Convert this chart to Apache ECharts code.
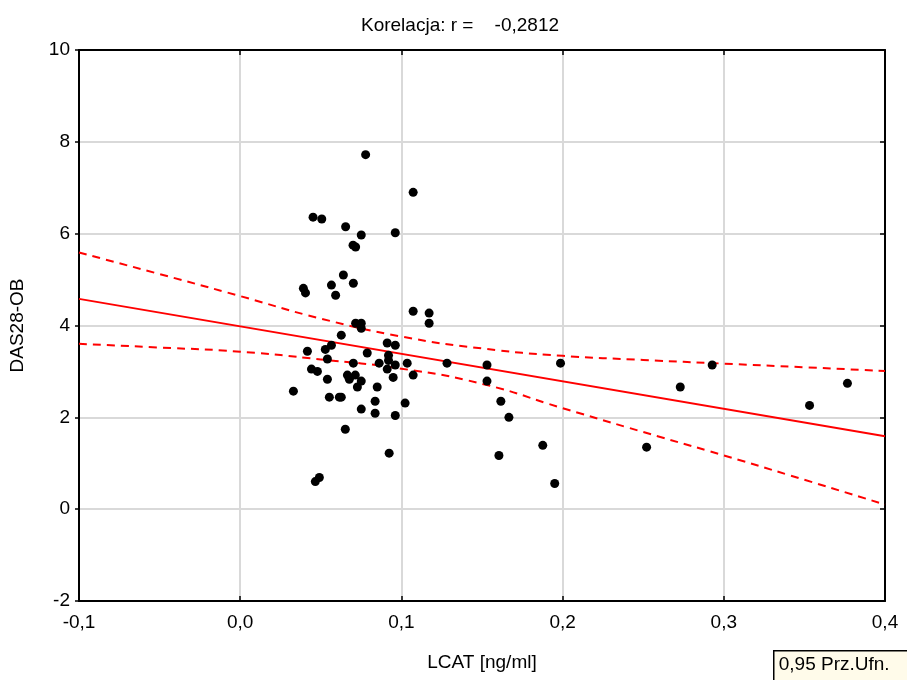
<!DOCTYPE html>
<html>
<head>
<meta charset="utf-8">
<script src="https://cdn.jsdelivr.net/npm/echarts@6/dist/echarts.min.js"></script>
<style>html,body{margin:0;padding:0;background:#fff}#c{width:907px;height:680px}</style>
</head>
<body>
<div id="c"></div>
<script>
// Data
const lcat = [0.0778,0.1073,0.0452,0.0506,0.0654,0.0751,0.0962,0.0700,0.0716,0.0640,0.0566,0.0702,0.0592,0.0392,0.0405,0.1073,0.1172,0.1172,0.0716,0.0751,0.0751,0.0627,0.0417,0.0528,0.0566,0.0788,0.0912,0.0962,0.0920,0.0920,0.0541,0.0702,0.0862,0.0962,0.0912,0.1036,0.1283,0.0442,0.0479,0.0541,0.0665,0.0714,0.0677,0.0751,0.0727,0.0850,0.0949,0.1073,0.0330,0.0553,0.0615,0.0627,0.0837,0.1023,0.0751,0.0837,0.0962,0.0652,0.0924,0.0466,0.0491,0.1531,0.1531,0.1617,0.1667,0.1605,0.1877,0.1951,0.1987,0.2521,0.2730,0.2928,0.3532,0.3767];
const das28 = [7.72,6.90,6.36,6.32,6.15,5.97,6.02,5.75,5.71,5.10,4.88,4.92,4.66,4.81,4.71,4.31,4.27,4.05,4.05,4.05,3.94,3.79,3.44,3.48,3.57,3.40,3.62,3.57,3.35,3.24,3.27,3.18,3.18,3.14,3.05,3.18,3.18,3.05,3.00,2.83,2.92,2.92,2.83,2.79,2.66,2.66,2.87,2.92,2.57,2.44,2.44,2.44,2.35,2.31,2.18,2.09,2.04,1.74,1.22,0.60,0.69,3.14,2.79,2.35,2.00,1.17,1.39,0.56,3.18,1.35,2.66,3.14,2.26,2.74];
const fitX = [-0.1, 0.4];
const fitY = [4.58, 1.59];
const bandX = [-0.1,-0.05,0,0.05,0.1,0.15,0.2,0.25,0.3,0.35,0.4];
const bandUpper = [5.59,5.12,4.64,4.15,3.76,3.50,3.34,3.25,3.17,3.09,3.01];
const bandLower = [3.60,3.52,3.43,3.26,3.06,2.73,2.20,1.68,1.17,0.64,0.10];
const xTicks = [-0.1,0,0.1,0.2,0.3,0.4];
const yTicks = [-2,0,2,4,6,8,10];
const titleText = 'Korelacja: r =    -0,2812';
const xName = 'LCAT [ng/ml]';
const yName = 'DAS28-OB';
const legendText = '0,95 Prz.Ufn.';

const FONT = 'Liberation Sans';
const zip = (a,b) => a.map((v,i)=>[v,b[i]]);
const fmtX = v => (Math.round(v*10)/10).toFixed(1).replace('.',',');

const chart = echarts.init(document.getElementById('c'), null, {renderer:'canvas'});
const axisLine = {show:true, onZero:false, lineStyle:{color:'#000', width:2}};
chart.setOption({
  animation:false,
  backgroundColor:'#fff',
  textStyle:{fontFamily:FONT},
  title:{text:titleText, left:455, top:11, textAlign:'center',
    textStyle:{fontFamily:FONT, fontSize:19, fontWeight:'normal', color:'#000'}},
  grid:{left:79, right:22, top:50, bottom:79, containLabel:false},
  xAxis:[{
    type:'value', min:-0.1, max:0.4, interval:0.1, position:'bottom',
    axisLine:axisLine,
    axisTick:{show:true, inside:true, length:5, lineStyle:{color:'#000', width:1.5}},
    axisLabel:{formatter:fmtX, color:'#000', fontSize:19, margin:12, fontFamily:FONT},
    splitLine:{show:true, lineStyle:{color:'#d9d9d9', width:2}},
    name:xName, nameLocation:'middle', nameGap:52,
    nameTextStyle:{color:'#000', fontSize:19, fontFamily:FONT}
  },{
    type:'value', min:-0.1, max:0.4, interval:0.1, position:'top',
    axisLine:axisLine,
    axisTick:{show:true, inside:true, length:5, lineStyle:{color:'#000', width:1.5}},
    axisLabel:{show:false}, splitLine:{show:false}
  }],
  yAxis:[{
    type:'value', min:-2, max:10, interval:2, position:'left',
    axisLine:axisLine,
    axisTick:{show:true, inside:false, length:4, lineStyle:{color:'#000', width:1.5}},
    axisLabel:{color:'#000', fontSize:19, margin:9, fontFamily:FONT},
    splitLine:{show:true, lineStyle:{color:'#d9d9d9', width:2}},
    name:yName, nameLocation:'middle', nameGap:52, nameRotate:90,
    nameTextStyle:{color:'#000', fontSize:19, fontFamily:FONT}
  },{
    type:'value', min:-2, max:10, interval:2, position:'right',
    axisLine:axisLine,
    axisTick:{show:true, inside:true, length:5, lineStyle:{color:'#000', width:1.5}},
    axisLabel:{show:false}, splitLine:{show:false}
  }],
  series:[
    {type:'line', data:zip(bandX,bandUpper), smooth:true, symbol:'none',
      lineStyle:{color:'#ff0000', width:2, type:[8,6]}, z:2},
    {type:'line', data:zip(bandX,bandLower), smooth:true, symbol:'none',
      lineStyle:{color:'#ff0000', width:2, type:[8,6]}, z:2},
    {type:'line', data:zip(fitX,fitY), symbol:'none',
      lineStyle:{color:'#ff0000', width:2}, z:2},
    {type:'scatter', data:zip(lcat,das28), symbol:'circle', symbolSize:9,
      itemStyle:{color:'#000', opacity:1}, z:3}
  ],
  graphic:[{
    type:'group', left:773, top:650, children:[
      {type:'rect', shape:{x:0,y:0,width:140,height:32},
        style:{fill:'#fffbea', stroke:'#000', lineWidth:1.5}},
      {type:'text', x:5, y:5, style:{text:legendText, fill:'#000', font:'19px "Liberation Sans"'}}
    ]
  }]
});
</script>
</body>
</html>
